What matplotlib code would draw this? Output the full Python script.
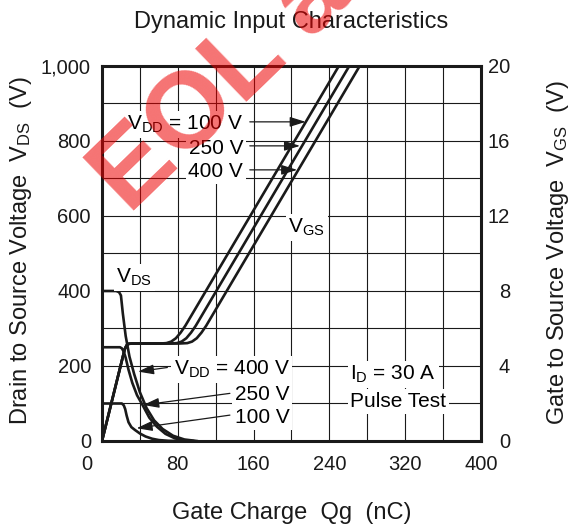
import matplotlib
matplotlib.use('Agg')
import matplotlib.pyplot as plt
import matplotlib.transforms as mtransforms
from matplotlib.ticker import MultipleLocator

# ---- data ----
# V_GS curves (right axis, V) vs gate charge (nC)
vgs_v = [0, 4.9, 5.1, 5.18, 5.2, 5.2, 5.22, 5.3, 5.48, 5.78, 6.15, 20]
vgs_100_q = [0, 24, 26, 28, 32, 62, 68, 73, 78, 83, 88, 250]
vgs_250_q = [0, 24, 26, 28, 32, 72, 79, 84, 89, 94, 99, 261]
vgs_400_q = [0, 24, 26, 28, 32, 82, 90, 95, 100, 105, 110, 272]

# V_DS curves (left axis, V) vs gate charge (nC)
vds_400_q = [0, 15, 18, 20, 22, 25, 29, 34, 40, 47, 55, 64, 75, 87, 100]
vds_400_v = [400, 400, 397, 388, 340, 280, 225, 178, 130, 88, 55, 32, 14, 4, 0]
vds_250_q = [0, 19, 21, 23, 25, 28, 32, 37, 43, 50, 58, 67, 77, 88, 96]
vds_250_v = [250, 250, 247, 238, 222, 190, 155, 122, 95, 62, 38, 19, 7, 1, 0]
vds_100_q = [0, 21, 23, 24.5, 26, 28, 31, 35, 40, 46, 53, 60, 70, 80]
vds_100_v = [100, 100, 95, 85, 68, 50, 37, 29, 20, 12, 6, 2.5, 0.5, 0]

x_ticks = [0, 80, 160, 240, 320, 400]
x_tick_labels = ['0', '80', '160', '240', '320', '400']
yl_ticks = [0, 200, 400, 600, 800, 1000]
yl_tick_labels = ['0', '200', '400', '600', '800', '1,000']
yr_ticks = [0, 4, 8, 12, 16, 20]
yr_tick_labels = ['0', '4', '8', '12', '16', '20']

plt.rcParams['font.family'] = ['Liberation Sans', 'DejaVu Sans']
plt.rcParams['mathtext.default'] = 'regular'

fig = plt.figure(figsize=(5.72, 5.27), dpi=100)
ax = fig.add_axes([0.1783, 0.1632, 0.6626, 0.7116])
ax2 = ax.twinx()

lw = 1.9
ax.plot(vds_400_q, vds_400_v, color='#1a1a1a', lw=lw, zorder=2)
ax.plot(vds_250_q, vds_250_v, color='#1a1a1a', lw=lw, zorder=2)
ax.plot(vds_100_q, vds_100_v, color='#1a1a1a', lw=lw, zorder=2)
ax2.plot(vgs_100_q, vgs_v, color='#1a1a1a', lw=lw)
ax2.plot(vgs_250_q, vgs_v, color='#1a1a1a', lw=lw)
ax2.plot(vgs_400_q, vgs_v, color='#1a1a1a', lw=lw)

ax.set_xlim(0, 400)
ax.set_ylim(0, 1000)
ax2.set_ylim(0, 20)

ax.set_xticks(x_ticks)
ax.set_xticklabels(x_tick_labels)
ax.set_yticks(yl_ticks)
ax.set_yticklabels(yl_tick_labels)
ax2.set_yticks(yr_ticks)
ax2.set_yticklabels(yr_tick_labels)
ax.xaxis.set_minor_locator(MultipleLocator(40))
ax.yaxis.set_minor_locator(MultipleLocator(100))
ax.grid(which='both', color='#1a1a1a', lw=0.8)

ax.tick_params(which='both', length=0, labelsize=14.5, colors='#1a1a1a')
ax.tick_params(axis='x', pad=10)
ax.tick_params(axis='y', pad=8)
ax2.tick_params(length=0, labelsize=14.5, pad=21, colors='#1a1a1a')
for lab in ax2.get_yticklabels():
    lab.set_horizontalalignment('right')

# the "0" under the x axis sits left of the frame in the original
offset = mtransforms.ScaledTranslation(-0.15, 0, fig.dpi_scale_trans)
lab0 = ax.get_xticklabels()[0]
lab0.set_transform(lab0.get_transform() + offset)

for s in ax.spines.values():
    s.set_visible(False)
for s in ax2.spines.values():
    s.set_linewidth(2.2)
    s.set_color('#1a1a1a')

# annotations
box = dict(facecolor='white', edgecolor='none', pad=2)
fs = 15
ax.text(34, 421, r'$V_{DS}$', ha='center', va='baseline', fontsize=fs, bbox=box)
ax.text(216, 555, r'$V_{GS}$', ha='center', va='baseline', fontsize=fs, bbox=box)

ax.text(149, 829, r'$V_{DD}$ = 100 V', ha='right', va='baseline', fontsize=fs, bbox=box)
ax.text(149, 765, '250 V', ha='right', va='baseline', fontsize=fs, bbox=box)
ax.text(149, 704, '400 V', ha='right', va='baseline', fontsize=fs, bbox=box)

ax.text(198, 176, r'$V_{DD}$ = 400 V', ha='right', va='baseline', fontsize=fs, bbox=box)
ax.text(198, 109, '250 V', ha='right', va='baseline', fontsize=fs, bbox=box)
ax.text(198, 48, '100 V', ha='right', va='baseline', fontsize=fs, bbox=box)

ax.text(262, 163, r'$I_D$ = 30 A', ha='left', va='baseline', fontsize=fs, bbox=box)
ax.text(262, 91, 'Pulse Test', ha='left', va='baseline', fontsize=fs, bbox=box)

arrow = dict(arrowstyle='-|>,head_length=0.8,head_width=0.25', color='#1a1a1a',
             lw=0.9, shrinkA=0, shrinkB=0, mutation_scale=12)
ax.annotate('', xy=(215, 851), xytext=(156, 851), arrowprops=arrow)
ax.annotate('', xy=(209, 787), xytext=(156, 787), arrowprops=arrow)
ax.annotate('', xy=(206, 723), xytext=(156, 723), arrowprops=arrow)
ax.annotate('', xy=(38, 185), xytext=(69, 196), arrowprops=arrow)
ax.annotate('', xy=(43.5, 96), xytext=(135, 127), arrowprops=arrow)
ax.annotate('', xy=(36.5, 34), xytext=(135, 69), arrowprops=arrow)

# titles / axis labels
fig.text(0.5096, 0.9469, 'Dynamic Input Characteristics', ha='center', va='baseline',
         fontsize=17, color='#1a1a1a')
fig.text(0.5105, 0.0152, 'Gate Charge  Qg  (nC)', ha='center', va='baseline',
         fontsize=17, color='#1a1a1a')
fig.text(0.037, 0.525, r'Drain to Source Voltage  $V_{DS}$  (V)', rotation=90,
         ha='center', va='center', fontsize=17, color='#1a1a1a')
fig.text(0.976, 0.52, r'Gate to Source Voltage  $V_{GS}$  (V)', rotation=90,
         ha='center', va='center', fontsize=17, color='#1a1a1a')

# EOL watermark (cut by the top edge, as in the original)
fig.text(0.2255, 0.592, 'EOL announced', rotation=44, rotation_mode='anchor',
         ha='left', va='baseline', fontsize=78, fontweight='bold',
         color=(0.93, 0, 0), alpha=0.55, zorder=10)

fig.savefig('out.png', dpi=100)
